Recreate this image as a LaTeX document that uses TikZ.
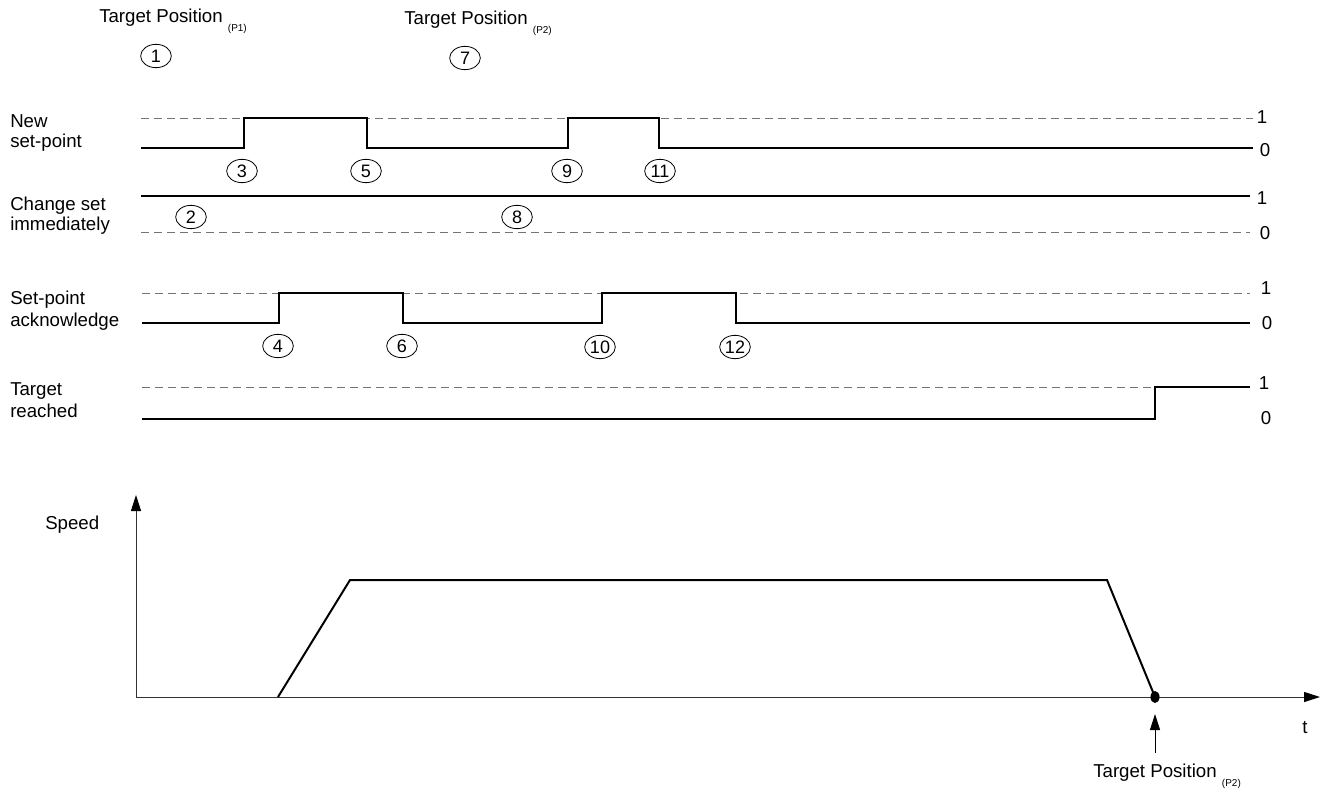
\documentclass[tikz,border=0pt]{standalone}
\usepackage{fontspec}
\setmainfont{Liberation Sans}
\usetikzlibrary{shapes.geometric,arrows.meta}
\newcommand{\psub}[1]{\raisebox{-7pt}{\fontsize{7.5}{9}\selectfont #1}}
\begin{document}
\begin{tikzpicture}[x=0.75pt,y=-0.75pt,
  sig/.style={line width=1.5pt, black, line join=miter},
  lvl/.style={draw=black!55, line width=0.75pt, dash pattern=on 6pt off 3.75pt},
  num/.style={ellipse, draw, line width=0.6pt, minimum width=23pt, minimum height=17.5pt, inner sep=0pt, font=\fontsize{13.5}{13.5}\selectfont},
  lbl/.style={font=\fontsize{14}{16}\selectfont, anchor=west, inner sep=0pt},
  val/.style={font=\fontsize{14}{16}\selectfont, inner sep=0pt},
  axis/.style={line width=0.75pt, draw=black!80, -{Triangle[width=7.5pt,length=12pt,color=black,fill=black]}}
]
\useasboundingbox (0,0) rectangle (1327,799);

% titles
\node[lbl] (tp1) at (99,21) {Target Position \psub{(P1)}};
\node[lbl] (tp2) at (404,23) {Target Position \psub{(P2)}};
\node[num] (c1) at (156,56) {1};
\node[num] (c7) at (465,58) {7};

% signal labels
\node[lbl] (l1a) at (10,121) {New};
\node[lbl] (l1b) at (10,143) {set-point};
\node[lbl] (l2a) at (10,206) {Change set};
\node[lbl] (l2b) at (10,226) {immediately};
\node[lbl] (l3a) at (10,300) {Set-point};
\node[lbl] (l3b) at (10,322) {acknowledge};
\node[lbl] (l4a) at (10,391) {Target};
\node[lbl] (l4b) at (10,411) {reached};

% row 1: New set-point
\draw[lvl] (141,118) -- (1253,118);
\draw[sig] (141,148) -- (244,148) -- (244,118) -- (367,118) -- (367,148) -- (568,148) -- (568,118) -- (659,118) -- (659,148) -- (1253,148);
\node[val] (r1h) at (1262,117) {1};
\node[val] (r1l) at (1265,150) {0};
\node[num] (c3) at (242,171) {3};
\node[num] (c5) at (366,171) {5};
\node[num] (c9) at (567,171) {9};
\node[num] (c11) at (660,171) {11};

% row 2: Change set immediately
\draw[lvl] (141,232) -- (1250,232);
\draw[sig] (141,196) -- (1250,196);
\node[val] (r2h) at (1262,198) {1};
\node[val] (r2l) at (1265,233) {0};
\node[num] (c2) at (191,217) {2};
\node[num] (c8) at (517,217) {8};

% row 3: Set-point acknowledge
\draw[lvl] (142,293) -- (1250,293);
\draw[sig] (142,323) -- (279,323) -- (279,293) -- (403,293) -- (403,323) -- (602,323) -- (602,293) -- (736,293) -- (736,323) -- (1250,323);
\node[val] (r3h) at (1266,288) {1};
\node[val] (r3l) at (1267,323) {0};
\node[num] (c4) at (278,346) {4};
\node[num] (c6) at (402,346) {6};
\node[num] (c10) at (600,347) {10};
\node[num] (c12) at (735,347) {12};

% row 4: Target reached
\draw[lvl] (142,387) -- (1155,387);
\draw[sig] (142,419) -- (1155,419) -- (1155,387) -- (1250,387);
\node[val] (r4h) at (1264,383) {1};
\node[val] (r4l) at (1266,418) {0};

% speed chart
\coordinate (O) at (136,697);
\coordinate (ytip) at (136,495);
\coordinate (xtip) at (1320,697);
\coordinate (s0) at (278,697);
\coordinate (s1) at (350,580);
\coordinate (s2) at (1107,580);
\coordinate (s3) at (1155,697);
\coordinate (ab) at (1155,753);
\coordinate (at) at (1155,714);
\draw[axis] (O) -- (ytip);
\draw[axis] (O) -- (xtip);
\draw[sig] (s0) -- (s1) -- (s2) -- (s3);
\fill (s3) ellipse (3.4pt and 4.5pt);
\draw[axis, draw=black] (ab) -- (at);
\node[lbl] (spd) at (45,525) {Speed};
\node[val] (tl) at (1305,728) {t};
\node[lbl] (tp3) at (1093,776) {Target Position \psub{(P2)}};
\end{tikzpicture}
\end{document}
